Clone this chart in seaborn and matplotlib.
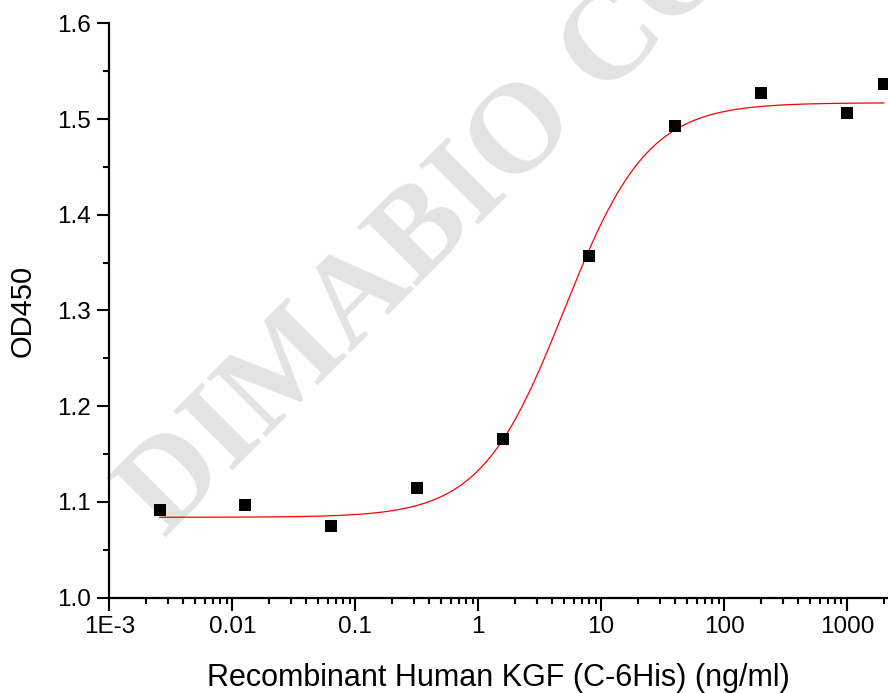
import numpy as np
import pandas as pd
import matplotlib
matplotlib.use("Agg")
import matplotlib.pyplot as plt
import matplotlib.ticker as mticker
import seaborn as sns

# measured points (ng/ml vs OD450)
conc = [0.00256, 0.0128, 0.064, 0.32, 1.6, 8, 40, 200, 1000, 2000]
od450 = [1.092, 1.097, 1.075, 1.115, 1.166, 1.357, 1.493, 1.527, 1.506, 1.537]

# 4PL fit parameters
fit_bottom = 1.084
fit_top = 1.517
fit_ec50 = 5.0
fit_hill = 1.28

x_ticks = [1e-3, 0.01, 0.1, 1, 10, 100, 1000]
x_tick_labels = ["1E-3", "0.01", "0.1", "1", "10", "100", "1000"]
y_ticks = [1.0, 1.1, 1.2, 1.3, 1.4, 1.5, 1.6]

sns.set_style("ticks")
plt.rcParams["font.family"] = ["Liberation Sans", "DejaVu Sans"]
plt.rcParams["text.color"] = "black"
plt.rcParams["axes.labelcolor"] = "black"

fig = plt.figure(figsize=(8.88, 6.93), dpi=100)
ax = fig.add_axes([0.1231, 0.1375, 0.8769, 0.8289])
ax.set_facecolor("none")

# watermark
ax.text(0.185, 0.2237, "DIMABIO CO.,LTD", transform=fig.transFigure,
        rotation=45, rotation_mode="anchor", ha="left", va="baseline",
        fontsize=92, fontweight="bold", family="Liberation Serif",
        color="#e3e3e3", zorder=0.5, clip_on=False)

points = pd.DataFrame({"conc": conc, "od": od450})
xs = np.logspace(np.log10(conc[0]), np.log10(conc[-1]), 400)
curve = pd.DataFrame({
    "conc": xs,
    "od": fit_bottom + (fit_top - fit_bottom) / (1 + (fit_ec50 / xs) ** fit_hill),
})

sns.lineplot(data=curve, x="conc", y="od", ax=ax, color="red", linewidth=0.9, zorder=2)
sns.scatterplot(data=points, x="conc", y="od", ax=ax, marker="s", s=80,
                color="black", edgecolor="black", linewidth=0, zorder=3, clip_on=False)

ax.set_xscale("log")
ax.set_xlim(1e-3, 2150)
ax.set_ylim(1.0, 1.6)
ax.xaxis.set_major_locator(mticker.FixedLocator(x_ticks))
ax.xaxis.set_major_formatter(mticker.FixedFormatter(x_tick_labels))
ax.xaxis.set_minor_locator(mticker.LogLocator(base=10, subs=np.arange(2, 10), numticks=20))
ax.xaxis.set_minor_formatter(mticker.NullFormatter())
ax.set_yticks(y_ticks)
ax.yaxis.set_major_formatter(mticker.FormatStrFormatter("%.1f"))
ax.yaxis.set_minor_locator(mticker.MultipleLocator(0.05))

sns.despine(ax=ax)
for side in ["left", "bottom"]:
    ax.spines[side].set_linewidth(1.6)
    ax.spines[side].set_color("black")
ax.tick_params(which="major", direction="out", length=9, width=1.5,
               labelsize=17.5, pad=4, colors="black", labelcolor="black")
ax.tick_params(which="minor", direction="out", length=4.5, width=1.5, colors="black")

ax.set_xlabel("Recombinant Human KGF (C-6His) (ng/ml)", fontsize=22, labelpad=18)
ax.set_ylabel("OD450", fontsize=21, labelpad=15)

fig.savefig("out.png", dpi=100)
